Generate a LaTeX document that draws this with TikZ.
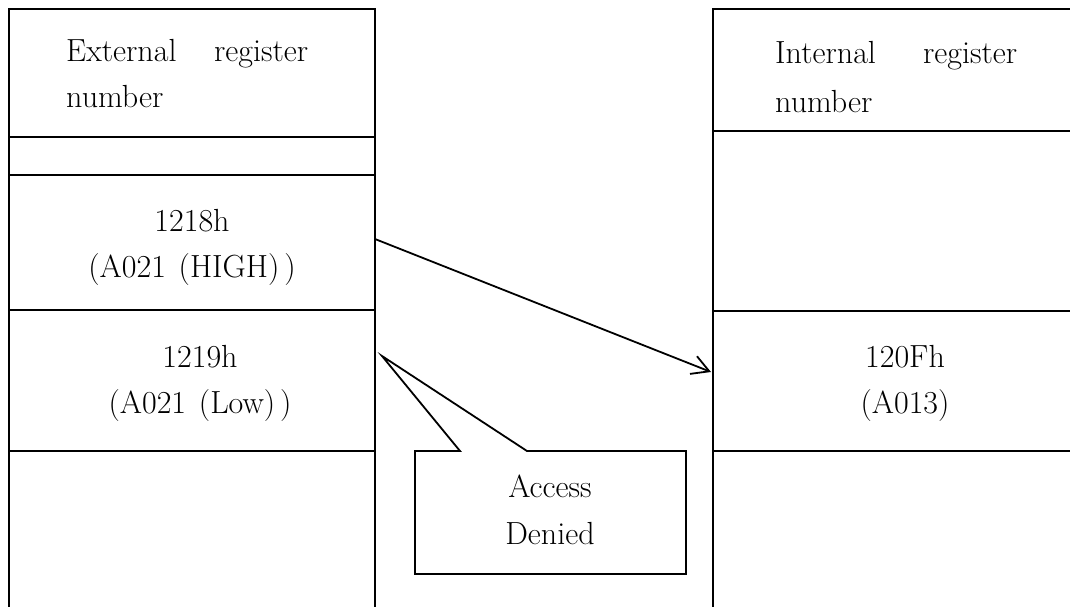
\documentclass[tikz,border=0pt]{standalone}
\usetikzlibrary{arrows.meta}
\begin{document}
\begin{tikzpicture}[x=1pt,y=-1pt,
  rule/.style={line width=1.8pt, black},
  lbl/.style={inner sep=0pt, font=\fontsize{32}{46}\selectfont},
  link/.style={line width=1.8pt, -{Straight Barb[length=17pt,width=19pt]}}]
\useasboundingbox (0,0) rectangle (1070,606);
\clip (0,0) rectangle (1070,606);
% left column
\draw[rule] (9,610) -- (9,9) -- (375,9) -- (375,610);
\draw[rule] (9,137) -- (375,137);
\draw[rule] (9,175) -- (375,175);
\draw[rule] (9,310) -- (375,310);
\draw[rule] (9,451) -- (375,451);
% right column
\draw[rule] (713,610) -- (713,9) -- (1080,9);
\draw[rule] (713,131) -- (1080,131);
\draw[rule] (713,311) -- (1080,311);
\draw[rule] (713,451) -- (1080,451);
% texts
\node[lbl, anchor=base west, align=left] (ext) at (66,107)
  {\makebox[242pt][s]{External register}\\number};
\node[lbl, anchor=base west, align=left, font=\fontsize{32}{49}\selectfont] (int) at (775,112)
  {\makebox[242pt][s]{Internal register}\\number};
\node[lbl, anchor=base, align=center] (r1218) at (192,277)
  {1218h\\(A021\hspace{0.4em}(HIGH)\hspace{0.15em})};
\node[lbl, anchor=base, align=center] (r1219) at (200,413)
  {1219h\\(A021\hspace{0.4em}(Low)\hspace{0.15em})};
\node[lbl, anchor=base, align=center] (r120F) at (905,413)
  {120Fh\\(A013)};
% arrow
\coordinate (src) at (375,239);
\coordinate (dst) at (711,372);
\draw[link] (src) -- (dst);
% callout
\coordinate (tip) at (382,356);
\draw[rule, fill=white, line join=miter] (415,451) -- (460,451) -- (tip) -- (527,451) -- (686,451) -- (686,574) -- (415,574) -- cycle;
\node[lbl, anchor=base, align=center, font=\fontsize{32}{47}\selectfont] (denied) at (550,544)
  {Access\\Denied};
\end{tikzpicture}
\end{document}
